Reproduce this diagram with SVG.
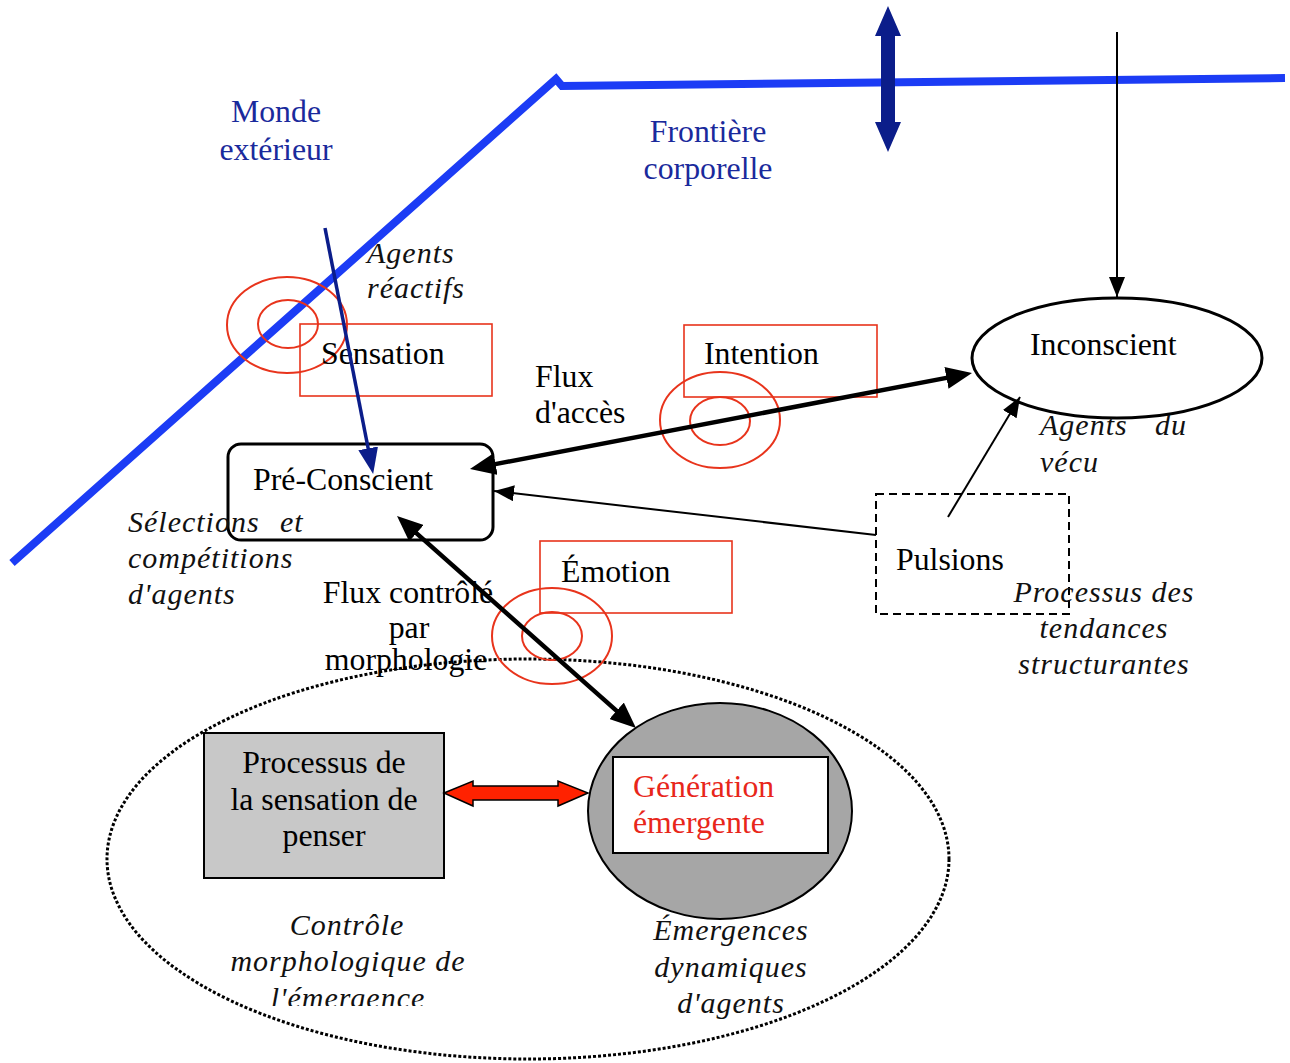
<svg xmlns="http://www.w3.org/2000/svg" width="1290" height="1063" viewBox="0 0 1290 1063">
<style>
.t{font-family:"Liberation Serif","Times New Roman",serif;font-size:31.8px;fill:#000}
.i{font-family:"Liberation Serif","Times New Roman",serif;font-size:30px;font-style:italic;fill:#111;letter-spacing:1px}
.b{fill:#1a2a9c}
.r{fill:#e8261a}
.ring{fill:none;stroke:#e8341c;stroke-width:2}
.rbox{fill:none;stroke:#e8341c;stroke-width:1.6}
.thick{fill:none;stroke:#000;stroke-width:4.5}
.thin{fill:none;stroke:#000;stroke-width:2}
</style>
<defs>
<marker id="ah" markerUnits="userSpaceOnUse" viewBox="0 0 26 22" refX="16" refY="11" markerWidth="26" markerHeight="22" orient="auto-start-reverse"><path d="M0,0 L26,11 L0,22 z" fill="#000"/></marker>
<marker id="at" markerUnits="userSpaceOnUse" viewBox="0 0 20 16" refX="20" refY="8" markerWidth="20" markerHeight="16" orient="auto"><path d="M0,0 L20,8 L0,16 z" fill="#000"/></marker>
<marker id="an" markerUnits="userSpaceOnUse" viewBox="0 0 26 20" refX="20" refY="10" markerWidth="26" markerHeight="20" orient="auto"><path d="M0,0 L26,10 L0,20 z" fill="#0b1d8a"/></marker>
<clipPath id="clipC"><rect x="0" y="0" width="1290" height="1006"/></clipPath>
</defs>
<rect width="1290" height="1063" fill="#fff"/>

<g id="boundary">
<polyline points="12,563 556,79 562,86 1285,78" fill="none" stroke="#1c3cf5" stroke-width="8" stroke-linejoin="miter"/>
<polygon points="888,6 901,36 895,36 895,122 901,122 888,152 875,122 881,122 881,36 875,36" fill="#0b1d8a"/>
<text class="t b" text-anchor="middle" x="276" y="122">Monde</text>
<text class="t b" text-anchor="middle" x="276" y="160">extérieur</text>
<text class="t b" text-anchor="middle" x="708" y="142">Frontière</text>
<text class="t b" text-anchor="middle" x="708" y="179">corporelle</text>
</g>

<g id="background-ellipse">
<ellipse cx="528" cy="859" rx="421" ry="200" fill="none" stroke="#000" stroke-width="3" stroke-dasharray="3 2"/>
</g>

<g id="sensation">
<ellipse class="ring" cx="287" cy="325" rx="60" ry="48"/>
<ellipse class="ring" cx="288" cy="324" rx="30" ry="24"/>
<rect class="rbox" x="300" y="324" width="192" height="72"/>
<text class="t" x="321" y="364">Sensation</text>
<text class="i" x="367" y="263">Agents</text>
<text class="i" x="367" y="298">réactifs</text>
</g>

<g id="intention">
<ellipse class="ring" cx="720" cy="420" rx="60" ry="48"/>
<ellipse class="ring" cx="720" cy="421" rx="30" ry="24"/>
<rect class="rbox" x="684" y="325" width="193" height="72"/>
<text class="t" x="704" y="364">Intention</text>
</g>

<g id="emotion">
<ellipse class="ring" cx="552" cy="636" rx="60" ry="48"/>
<ellipse class="ring" cx="552" cy="636" rx="30" ry="24"/>
<rect class="rbox" x="540" y="541" width="192" height="72"/>
<text class="t" x="561" y="582">Émotion</text>
</g>

<g id="preconscient">
<rect x="228" y="444" width="265" height="96" rx="13" fill="none" stroke="#000" stroke-width="3"/>
<text class="t" x="253" y="490">Pré-Conscient</text>
<text class="i" x="128" y="532">Sélections</text>
<text class="i" x="280" y="532">et</text>
<text class="i" x="128" y="568">compétitions</text>
<text class="i" x="128" y="604">d'agents</text>
</g>

<g id="inconscient">
<ellipse cx="1117" cy="358" rx="145" ry="60" fill="none" stroke="#000" stroke-width="3"/>
<text class="t" x="1030" y="355">Inconscient</text>
<text class="i" x="1040" y="435">Agents <tspan x="1155">du</tspan></text>
<text class="i" x="1040" y="472">vécu</text>
</g>

<g id="pulsions">
<rect x="876" y="494" width="193" height="120" fill="none" stroke="#000" stroke-width="2" stroke-dasharray="8 5"/>
<text class="t" x="896" y="570">Pulsions</text>
<text class="i" text-anchor="middle" x="1104" y="602">Processus des</text>
<text class="i" text-anchor="middle" x="1104" y="638">tendances</text>
<text class="i" text-anchor="middle" x="1104" y="674">structurantes</text>
</g>

<g id="processus">
<rect x="204" y="733" width="240" height="145" fill="#c8c8c8" stroke="#000" stroke-width="2"/>
<text class="t" text-anchor="middle" x="324" y="773">Processus de</text>
<text class="t" text-anchor="middle" x="324" y="810">la sensation de</text>
<text class="t" text-anchor="middle" x="324" y="846">penser</text>
<g clip-path="url(#clipC)">
<text class="i" text-anchor="middle" x="347" y="935">Contrôle</text>
<text class="i" text-anchor="middle" x="348" y="971">morphologique de</text>
<text class="i" text-anchor="middle" x="348" y="1008">l'émergence</text>
</g>
</g>

<g id="generation">
<ellipse cx="720" cy="811" rx="132" ry="108" fill="#a6a6a6" stroke="#000" stroke-width="2"/>
<rect x="613" y="757" width="215" height="96" fill="#fff" stroke="#000" stroke-width="2"/>
<text class="t r" x="633" y="797">Génération</text>
<text class="t r" x="633" y="833">émergente</text>
<text class="i" text-anchor="middle" x="731" y="940">Émergences</text>
<text class="i" text-anchor="middle" x="731" y="977">dynamiques</text>
<text class="i" text-anchor="middle" x="731" y="1013">d'agents</text>
</g>

<g id="connectors">
<line x1="1117" y1="32" x2="1117" y2="297" class="thin" stroke-width="1.6" marker-end="url(#at)"/>
<line x1="325" y1="228" x2="372" y2="468" stroke="#0b1d8a" stroke-width="3.5" marker-end="url(#an)"/>
<line x1="479.8" y1="467.1" x2="962.2" y2="374.9" class="thick" marker-start="url(#ah)" marker-end="url(#ah)"/>
<line x1="404.5" y1="522.6" x2="628.5" y2="721.4" class="thick" marker-start="url(#ah)" marker-end="url(#ah)"/>
<line x1="876" y1="535" x2="494" y2="491" class="thin" marker-end="url(#at)"/>
<line x1="948" y1="517" x2="1020" y2="397" class="thin" marker-end="url(#at)"/>
<polygon points="444,793 473,781 473,786 558,786 558,781 588,793 558,806 558,800 473,800 473,806" fill="#ff2200" stroke="#000" stroke-width="1.5"/>
<text class="t" text-anchor="middle" x="408" y="603">Flux contrôlé</text>
<text class="t" text-anchor="middle" x="409" y="638">par</text>
<text class="t" text-anchor="middle" x="406" y="670">morphologie</text>
<text class="t" x="535" y="387">Flux</text>
<text class="t" x="535" y="423">d'accès</text>
</g>
</svg>
